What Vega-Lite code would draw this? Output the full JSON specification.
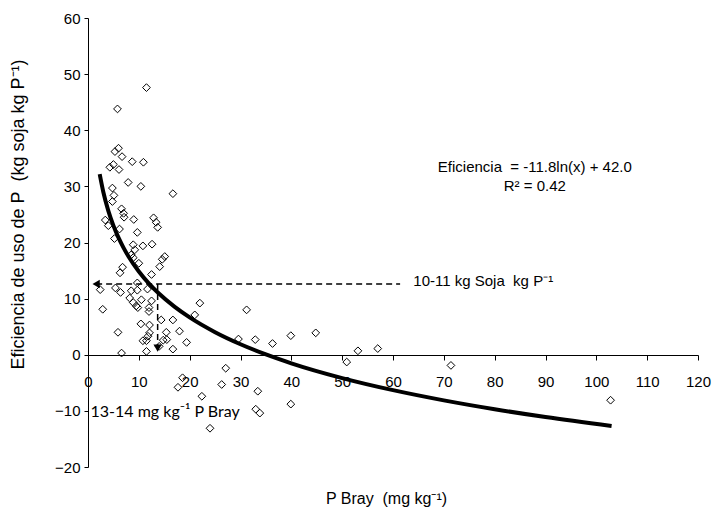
{
  "$schema": "https://vega.github.io/schema/vega-lite/v6.json",
  "width": 610,
  "height": 449,
  "autosize": {"type": "none"},
  "padding": {"left": 88, "top": 18, "right": 14, "bottom": 43},
  "background": "white",
  "config": {
    "view": {"stroke": null},
    "font": "Liberation Sans",
    "axis": {"grid": false, "domainColor": "black", "tickColor": "black", "labelColor": "black", "titleColor": "black", "labelFont": "Liberation Sans", "titleFont": "Liberation Sans", "labelFontSize": 15, "titleFontSize": 16, "titleFontWeight": "normal"}
  },
  "datasets": {
    "pts": [
      {"pbray": 11.5, "ef": 47.6}, {"pbray": 5.8, "ef": 43.8}, {"pbray": 6.0, "ef": 36.8}, {"pbray": 5.3, "ef": 36.2},
      {"pbray": 6.7, "ef": 35.3}, {"pbray": 8.7, "ef": 34.4}, {"pbray": 10.9, "ef": 34.3}, {"pbray": 4.3, "ef": 33.4},
      {"pbray": 5.0, "ef": 33.9}, {"pbray": 6.1, "ef": 33.0}, {"pbray": 7.9, "ef": 30.7}, {"pbray": 10.4, "ef": 30.0},
      {"pbray": 16.7, "ef": 28.7}, {"pbray": 4.8, "ef": 29.7}, {"pbray": 5.1, "ef": 28.4}, {"pbray": 4.8, "ef": 27.3},
      {"pbray": 6.6, "ef": 26.0}, {"pbray": 7.0, "ef": 25.2}, {"pbray": 7.1, "ef": 24.5}, {"pbray": 9.0, "ef": 24.1},
      {"pbray": 3.4, "ef": 24.0}, {"pbray": 12.9, "ef": 24.4}, {"pbray": 13.4, "ef": 23.6}, {"pbray": 13.7, "ef": 22.7},
      {"pbray": 4.0, "ef": 23.0}, {"pbray": 6.2, "ef": 22.4}, {"pbray": 9.7, "ef": 21.8}, {"pbray": 5.2, "ef": 20.7},
      {"pbray": 8.9, "ef": 19.6}, {"pbray": 10.8, "ef": 19.4}, {"pbray": 12.6, "ef": 19.7}, {"pbray": 9.2, "ef": 18.7},
      {"pbray": 8.5, "ef": 17.8}, {"pbray": 8.9, "ef": 17.3}, {"pbray": 10.0, "ef": 16.3}, {"pbray": 15.1, "ef": 17.5},
      {"pbray": 14.6, "ef": 17.0}, {"pbray": 14.1, "ef": 15.7}, {"pbray": 6.8, "ef": 15.6}, {"pbray": 6.3, "ef": 14.6},
      {"pbray": 12.5, "ef": 14.3}, {"pbray": 9.7, "ef": 12.8}, {"pbray": 2.4, "ef": 11.6}, {"pbray": 5.4, "ef": 11.9},
      {"pbray": 6.4, "ef": 11.1}, {"pbray": 8.5, "ef": 11.4}, {"pbray": 9.7, "ef": 11.5}, {"pbray": 11.7, "ef": 11.7},
      {"pbray": 8.2, "ef": 10.1}, {"pbray": 8.9, "ef": 9.3}, {"pbray": 9.5, "ef": 8.7}, {"pbray": 9.8, "ef": 8.4},
      {"pbray": 10.5, "ef": 9.8}, {"pbray": 12.0, "ef": 8.4}, {"pbray": 12.0, "ef": 7.7}, {"pbray": 2.9, "ef": 8.1},
      {"pbray": 12.5, "ef": 9.6}, {"pbray": 10.4, "ef": 5.5}, {"pbray": 12.1, "ef": 5.3}, {"pbray": 16.7, "ef": 6.2},
      {"pbray": 5.9, "ef": 4.0}, {"pbray": 12.1, "ef": 3.9}, {"pbray": 11.8, "ef": 3.3}, {"pbray": 11.5, "ef": 2.5},
      {"pbray": 15.4, "ef": 4.0}, {"pbray": 14.8, "ef": 2.6}, {"pbray": 10.8, "ef": 2.5}, {"pbray": 11.5, "ef": 0.6},
      {"pbray": 16.7, "ef": 1.0}, {"pbray": 6.6, "ef": 0.3}, {"pbray": 14.0, "ef": 1.5}, {"pbray": 19.4, "ef": 2.2},
      {"pbray": 22.0, "ef": 9.2}, {"pbray": 21.0, "ef": 7.1}, {"pbray": 31.2, "ef": 8.0}, {"pbray": 14.4, "ef": 6.2},
      {"pbray": 18.0, "ef": 4.2}, {"pbray": 29.6, "ef": 2.8}, {"pbray": 32.9, "ef": 2.7}, {"pbray": 36.3, "ef": 2.0},
      {"pbray": 39.9, "ef": 3.4}, {"pbray": 44.8, "ef": 3.9}, {"pbray": 53.1, "ef": 0.7}, {"pbray": 57.0, "ef": 1.1},
      {"pbray": 50.9, "ef": -1.3}, {"pbray": 27.1, "ef": -2.4}, {"pbray": 18.6, "ef": -4.1}, {"pbray": 17.7, "ef": -5.8},
      {"pbray": 26.3, "ef": -5.3}, {"pbray": 22.4, "ef": -7.4}, {"pbray": 33.4, "ef": -6.5}, {"pbray": 33.0, "ef": -9.7},
      {"pbray": 33.8, "ef": -10.4}, {"pbray": 39.9, "ef": -8.8}, {"pbray": 24.0, "ef": -13.1}, {"pbray": 71.4, "ef": -1.9},
      {"pbray": 102.8, "ef": -8.1}, {"pbray": 15.5, "ef": 2.7}
    ],
    "curve": [
      {"pbray": 2.3, "ef": 32.17}, {"pbray": 3, "ef": 29.04}, {"pbray": 4, "ef": 25.64}, {"pbray": 5, "ef": 23.01},
      {"pbray": 6, "ef": 20.86}, {"pbray": 7, "ef": 19.04}, {"pbray": 8, "ef": 17.46}, {"pbray": 10, "ef": 14.83},
      {"pbray": 12, "ef": 12.68}, {"pbray": 14, "ef": 10.86}, {"pbray": 17, "ef": 8.57}, {"pbray": 20, "ef": 6.65},
      {"pbray": 25, "ef": 4.02}, {"pbray": 30, "ef": 1.87}, {"pbray": 35, "ef": 0.05}, {"pbray": 40, "ef": -1.53},
      {"pbray": 50, "ef": -4.16}, {"pbray": 60, "ef": -6.31}, {"pbray": 70, "ef": -8.13}, {"pbray": 80, "ef": -9.71},
      {"pbray": 90, "ef": -11.10}, {"pbray": 103, "ef": -12.69}
    ],
    "dash": [
      {"g": "h", "pbray": 1.6, "ef": 12.6}, {"g": "h", "pbray": 61.4, "ef": 12.6},
      {"g": "v", "pbray": 13.7, "ef": 12.6}, {"g": "v", "pbray": 13.7, "ef": 1.5}
    ],
    "notes": [
      {"label": "Eficiencia\u00a0 = -11.8ln(x) + 42.0", "pbray": 87.9, "ef": 33.5},
      {"label": "R² = 0.42", "pbray": 87.9, "ef": 30.1}
    ],
    "notesLeft": [
      {"label": "10-11 kg Soja\u00a0 kg P⁻¹", "pbray": 64.0, "ef": 13.2}
    ],
    "notesCal": [
      {"label": "13-14 mg kg⁻¹ P Bray", "pbray": 0.5, "ef": -10.2}
    ]
  },
  "layer": [
    {
      "data": {"name": "pts"},
      "mark": {"type": "point", "shape": "diamond", "filled": false, "stroke": "black", "strokeWidth": 1, "size": 60, "opacity": 1},
      "encoding": {
        "x": {"field": "pbray", "type": "quantitative", "scale": {"domain": [0, 120], "nice": false},
          "axis": {"values": [0,5,10,15,20,25,30,35,40,45,50,55,60,65,70,75,80,85,90,95,100,105,110,115,120],
            "labelExpr": "datum.value % 10 === 0 ? datum.label : ''", "offset": -112, "tickSize": 5, "labelPadding": 14,
            "labelFlush": false, "labelOverlap": false, "title": "P Bray\u00a0 (mg kg⁻¹)", "titleX": 298, "titleY": 143,
            "titleAlign": "center", "titleBaseline": "middle", "titleAnchor": null}},
        "y": {"field": "ef", "type": "quantitative", "scale": {"domain": [-20, 60], "nice": false},
          "axis": {"values": [-20,-15,-10,-5,0,5,10,15,20,25,30,35,40,45,50,55,60],
            "labelExpr": "datum.value % 10 === 0 ? datum.label : ''", "tickSize": 4, "labelPadding": 4,
            "labelOverlap": false, "labelFlush": false, "title": "Eficiencia de uso de P\u00a0 (kg soja kg P⁻¹)",
            "titleFontSize": 18, "titleX": -70, "titleY": 196, "titleAlign": "center", "titleBaseline": "middle", "titleAnchor": null}}
      }
    },
    {
      "data": {"name": "curve"},
      "mark": {"type": "line", "color": "black", "strokeWidth": 4, "interpolate": "monotone"},
      "encoding": {"x": {"field": "pbray", "type": "quantitative"}, "y": {"field": "ef", "type": "quantitative"}}
    },
    {
      "data": {"name": "dash"},
      "mark": {"type": "line", "color": "black", "strokeWidth": 1.5, "strokeDash": [6, 4]},
      "encoding": {"x": {"field": "pbray", "type": "quantitative"}, "y": {"field": "ef", "type": "quantitative"}, "detail": {"field": "g"}}
    },
    {
      "data": {"values": [{"pbray": 1.6, "ef": 12.6}]},
      "mark": {"type": "point", "shape": "triangle-left", "filled": true, "color": "black", "size": 70, "opacity": 1},
      "encoding": {"x": {"field": "pbray", "type": "quantitative"}, "y": {"field": "ef", "type": "quantitative"}}
    },
    {
      "data": {"values": [{"pbray": 13.7, "ef": 1.2}]},
      "mark": {"type": "point", "shape": "triangle-down", "filled": true, "color": "black", "size": 70, "opacity": 1},
      "encoding": {"x": {"field": "pbray", "type": "quantitative"}, "y": {"field": "ef", "type": "quantitative"}}
    },
    {
      "data": {"name": "notes"},
      "mark": {"type": "text", "font": "Liberation Sans", "fontSize": 15, "align": "center", "baseline": "middle", "color": "black"},
      "encoding": {"x": {"field": "pbray", "type": "quantitative"}, "y": {"field": "ef", "type": "quantitative"}, "text": {"field": "label"}}
    },
    {
      "data": {"name": "notesLeft"},
      "mark": {"type": "text", "font": "Liberation Sans", "fontSize": 15, "align": "left", "baseline": "middle", "color": "black"},
      "encoding": {"x": {"field": "pbray", "type": "quantitative"}, "y": {"field": "ef", "type": "quantitative"}, "text": {"field": "label"}}
    },
    {
      "data": {"name": "notesCal"},
      "mark": {"type": "text", "font": "Lato", "fontSize": 16, "align": "left", "baseline": "middle", "color": "black"},
      "encoding": {"x": {"field": "pbray", "type": "quantitative"}, "y": {"field": "ef", "type": "quantitative"}, "text": {"field": "label"}}
    }
  ]
}
